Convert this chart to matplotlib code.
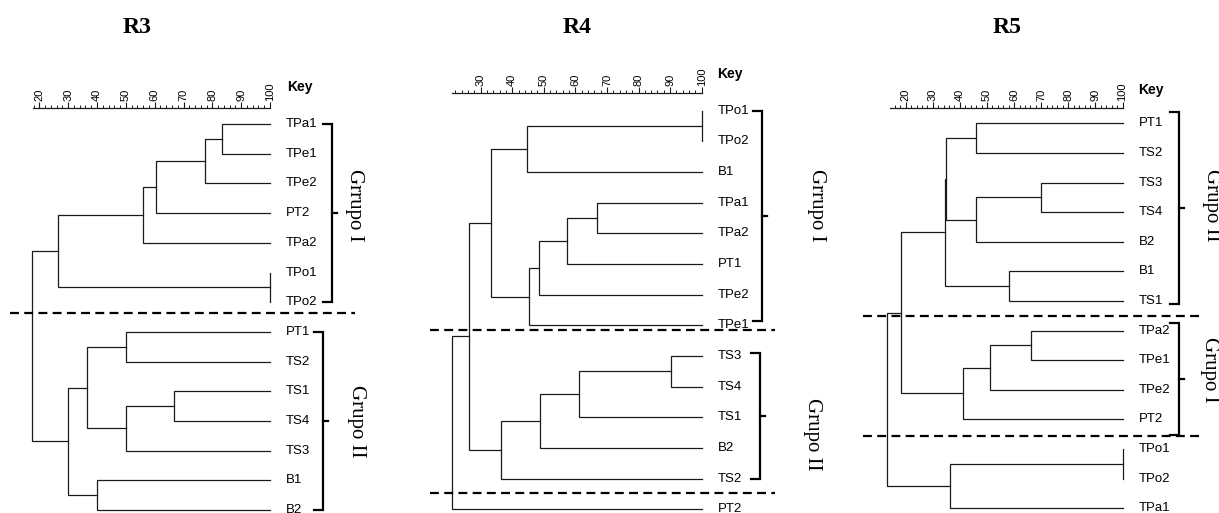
import matplotlib
matplotlib.use("Agg")
import matplotlib.pyplot as plt
from matplotlib.ticker import MultipleLocator

W, H = 1219, 513
SANS = ['Liberation Sans Narrow', 'Liberation Sans', 'DejaVu Sans']
SERIF = ['Liberation Serif', 'DejaVu Serif']
plt.rcParams['font.family'] = SANS

# ---------------- data ----------------
titles = ["R3", "R4", "R5"]

r3_leaves = ["TPa1", "TPe1", "TPe2", "PT2", "TPa2", "TPo1", "TPo2",
             "PT1", "TS2", "TS1", "TS4", "TS3", "B1", "B2"]
r3_merges = [("TPa1", "TPe1", 83.5), ("c0", "TPe2", 77.5), ("c1", "PT2", 60.4),
             ("c2", "TPa2", 56.1), ("TPo1", "TPo2", 100.0), ("c3", "c4", 26.6),
             ("PT1", "TS2", 50.0), ("TS1", "TS4", 66.6), ("c7", "TS3", 50.0),
             ("c6", "c8", 36.4), ("B1", "B2", 39.9), ("c9", "c10", 30.1),
             ("c5", "c11", 17.6)]

r4_leaves = ["TPo1", "TPo2", "B1", "TPa1", "TPa2", "PT1", "TPe2", "TPe1",
             "TS3", "TS4", "TS1", "B2", "TS2", "PT2"]
r4_merges = [("TPo1", "TPo2", 100.0), ("c0", "B1", 44.6), ("TPa1", "TPa2", 66.7),
             ("c2", "PT1", 57.2), ("c3", "TPe2", 48.6), ("c4", "TPe1", 45.3),
             ("c1", "c5", 33.2), ("TS3", "TS4", 90.2), ("c7", "TS1", 61.1),
             ("c8", "B2", 48.9), ("c9", "TS2", 36.4), ("c6", "c10", 26.3),
             ("c11", "PT2", 20.8)]

r5_leaves = ["PT1", "TS2", "TS3", "TS4", "B2", "B1", "TS1", "TPa2", "TPe1",
             "TPe2", "PT2", "TPo1", "TPo2", "TPa1"]
r5_merges = [("PT1", "TS2", 45.8), ("TS3", "TS4", 70.0), ("c1", "B2", 45.8),
             ("c0", "c2", 34.9), ("B1", "TS1", 58.1), ("c3", "c4", 34.4),
             ("TPa2", "TPe1", 66.3), ("c6", "TPe2", 51.2), ("c7", "PT2", 41.2),
             ("c5", "c8", 18.2), ("TPo1", "TPo2", 100.0), ("c10", "TPa1", 36.3),
             ("c9", "c11", 13.0)]

# group names and the leaf-index span each bracket covers
r3_groups = [("Grrupo I", 0.0, 6.0), ("Grupo II", 7.0, 13.0)]
r4_groups = [("Grrupo I", 0.0, 6.85), ("Grupo II", 7.9, 12.0)]
r5_groups = [("Grupo II", -0.39, 6.1), ("Grupo I", 6.75, 10.53)]

# cut lines (leaf-index position)
r3_cuts = [6.37]
r4_cuts = [7.14, 12.46]
r5_cuts = [6.51, 10.55]

# ---------------- layout (pixels) ----------------
layouts = [
    dict(x20=39.3, scale=2.884, y0=124.0, sp=29.7, ruler_y=108.3, ruler_start=17.7,
         key=(287, 87), title=(136.7, 27.5), cut=(-260, 85),
         br_dx=[61.7, 52.7], lab=[(84, 2.73), (86, 10.0)]),
    dict(x20=449.1, scale=3.157, y0=110.7, sp=30.66, ruler_y=93.3, ruler_start=20.8,
         key=(716.7, 74), title=(576.7, 27.5), cut=(-272, 73),
         br_dx=[60.0, 58.3], lab=[(115, 3.08), (111, 10.54)]),
    dict(x20=905.7, scale=2.71, y0=123.3, sp=29.6, ruler_y=108.3, ruler_start=14.2,
         key=(1138, 90), title=(1006.7, 27.5), cut=(-260, 78),
         br_dx=[56.0, 56.0], lab=[(89, 2.76), (87, 8.33)]),
]

panels = [(r3_leaves, r3_merges, r3_groups, r3_cuts),
          (r4_leaves, r4_merges, r4_groups, r4_cuts),
          (r5_leaves, r5_merges, r5_groups, r5_cuts)]

fig = plt.figure(figsize=(W / 100, H / 100), dpi=100)


def px_rect(l, t, w, h):
    return [l / W, 1 - (t + h) / H, w / W, h / H]


LC = '#1a1a1a'

for title, (leaves, merges, groups, cuts), L in zip(titles, panels, layouts):
    sc, sp = L['scale'], L['sp']
    n = len(leaves)
    ax = fig.add_axes(px_rect(L['x20'], L['y0'], 80 * sc, (n - 1) * sp))
    ax.set_xlim(20, 100)
    ax.set_ylim(n - 1, 0)
    ax.axis('off')

    # dendrogram
    pos = {name: (100.0, float(i)) for i, name in enumerate(leaves)}
    for k, (a, b, h) in enumerate(merges):
        xa, ya = pos[a]
        xb, yb = pos[b]
        ax.plot([xa, h, h, xb], [ya, ya, yb, yb], color=LC, lw=0.9,
                clip_on=False, solid_joinstyle='miter')
        pos["c%d" % k] = (h, (ya + yb) / 2)

    # leaf labels
    for i, name in enumerate(leaves):
        ax.text(100 + 16 / sc, i, name, fontsize=9.5, va='center', ha='left',
                family=SANS, clip_on=False)

    # cut lines
    for c in cuts:
        ax.plot([100 + L['cut'][0] / sc, 100 + L['cut'][1] / sc], [c, c],
                color='black', lw=1.6, ls=(0, (4.0, 2.4)), clip_on=False)

    # brackets and group labels
    for (gname, y1, y2), dx, (ldx, ly) in zip(groups, L['br_dx'], L['lab']):
        xb = 100 + dx / sc
        hook = 9 / sc
        ax.plot([xb - hook, xb, xb, xb - hook], [y1, y1, y2, y2],
                color='black', lw=1.6, clip_on=False, solid_joinstyle='miter')
        ym = (y1 + y2) / 2
        ax.plot([xb, xb + 5 / sc], [ym, ym], color='black', lw=1.6, clip_on=False)
        ax.text(100 + ldx / sc, ly, gname, rotation=270, fontsize=15,
                family=SERIF, ha='center', va='center',
                rotation_mode='anchor', clip_on=False)

    # ruler
    x_start = L['x20'] + (L['ruler_start'] - 20) * sc
    x_end = L['x20'] + 80 * sc
    rax = fig.add_axes(px_rect(x_start, L['ruler_y'], x_end - x_start, 1))
    rax.set_xlim(L['ruler_start'], 100)
    rax.set_facecolor('none')
    for s in ['left', 'right', 'bottom']:
        rax.spines[s].set_visible(False)
    rax.spines['top'].set_linewidth(0.9)
    rax.spines['top'].set_color(LC)
    rax.set_yticks([])
    rax.xaxis.tick_top()
    rax.xaxis.set_major_locator(MultipleLocator(10))
    rax.xaxis.set_minor_locator(MultipleLocator(2))
    rax.tick_params(axis='x', which='major', direction='out', length=4.5,
                    width=0.8, labelsize=8, labelrotation=90, pad=1, color=LC)
    rax.tick_params(axis='x', which='minor', direction='out', length=2.2,
                    width=0.7, color=LC)
    for lbl in rax.get_xticklabels():
        lbl.set_family(SANS)

    # key and title
    fig.text(L['key'][0] / W, 1 - L['key'][1] / H, "Key", fontsize=10,
             fontweight='bold', ha='left', va='center', family=SANS)
    fig.text(L['title'][0] / W, 1 - L['title'][1] / H, title, fontsize=17,
             fontweight='bold', ha='center', va='center', family=SERIF)

fig.savefig("out.png", dpi=100)
